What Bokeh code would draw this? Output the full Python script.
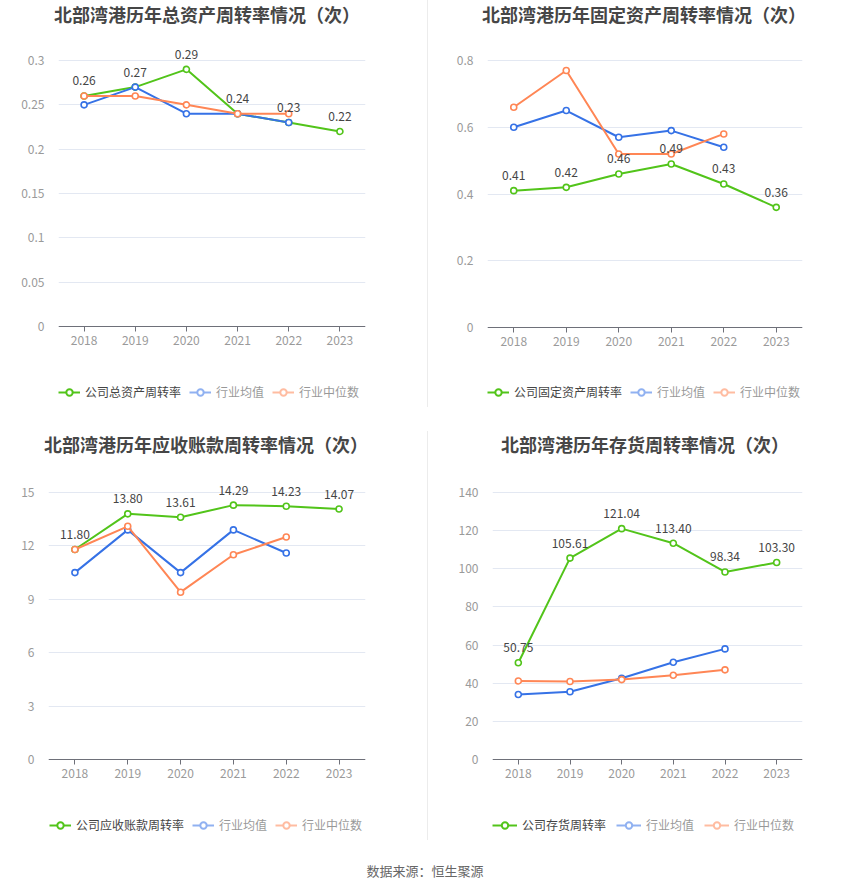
import math
from bokeh.plotting import figure
from bokeh.models import (ColumnDataSource, Range1d, FixedTicker, NumeralTickFormatter,
                          Legend, LegendItem, Div)
from bokeh.layouts import column, row
from bokeh.embed import file_html
from bokeh.resources import INLINE
from bokeh.core.properties import value

# ---------------- data ----------------
years = ["2018", "2019", "2020", "2021", "2022", "2023"]
years_ind = ["2018", "2019", "2020", "2021", "2022"]

ta_company = [0.26, 0.27, 0.29, 0.24, 0.23, 0.22]
ta_avg = [0.25, 0.27, 0.24, 0.24, 0.23]
ta_median = [0.26, 0.26, 0.25, 0.24, 0.24]
ta_ticks = [0, 0.05, 0.1, 0.15, 0.2, 0.25, 0.3]

fa_company = [0.41, 0.42, 0.46, 0.49, 0.43, 0.36]
fa_avg = [0.60, 0.65, 0.57, 0.59, 0.54]
fa_median = [0.66, 0.77, 0.52, 0.52, 0.58]
fa_ticks = [0, 0.2, 0.4, 0.6, 0.8]

ar_company = [11.80, 13.80, 13.61, 14.29, 14.23, 14.07]
ar_avg = [10.5, 12.9, 10.5, 12.9, 11.6]
ar_median = [11.8, 13.1, 9.4, 11.5, 12.5]
ar_ticks = [0, 3, 6, 9, 12, 15]

inv_company = [50.75, 105.61, 121.04, 113.40, 98.34, 103.30]
inv_avg = [34.1, 35.5, 42.6, 51.0, 58.0]
inv_median = [41.2, 40.9, 41.9, 44.2, 47.0]
inv_ticks = [0, 20, 40, 60, 80, 100, 120, 140]

titles = ["北部湾港历年总资产周转率情况（次）", "北部湾港历年固定资产周转率情况（次）",
          "北部湾港历年应收账款周转率情况（次）", "北部湾港历年存货周转率情况（次）"]
company_names = ["公司总资产周转率", "公司固定资产周转率", "公司应收账款周转率", "公司存货周转率"]
avg_name = "行业均值"
median_name = "行业中位数"
source_text = "数据来源：恒生聚源"

GREEN = "#52c41a"
BLUE = "#3672e6"
ORANGE = "#ff8655"
FONT = "Noto Sans CJK SC"
EXT = 20        # px of frame above the top gridline (room for value labels)
TITLE_H = 28    # height of the title strip
FRAME_BOTTOM = 377  # frame bottom inside figure (room for axis labels + legend)
AXIS_B = 25


def panel(title, cname, comp, avg, med, ticks, fmt, geo, divider=None):
    (bl, fw, br, gtop, fh, indent, lg_vx, lg_vy, gw, sp) = geo
    # gtop: px from figure top to top gridline; fh: px from top gridline to zero line
    top_border = gtop - EXT
    k = fh / ticks[-1]
    y_end = ticks[-1] + EXT / k
    y_start = -(FRAME_BOTTOM - gtop - fh) / k
    p = figure(x_range=years, y_range=Range1d(y_start, y_end),
               frame_width=fw, frame_height=FRAME_BOTTOM - top_border,
               min_border_left=bl, min_border_right=br,
               min_border_top=top_border, min_border_bottom=AXIS_B,
               output_backend="svg", toolbar_location=None)
    p.title.text = ""
    p.outline_line_color = None
    p.background_fill_color = "white"
    p.border_fill_alpha = 0

    p.xgrid.grid_line_color = None
    p.ygrid.grid_line_color = "#e3e8f2"
    p.ygrid.grid_line_width = 1

    p.yaxis.ticker = FixedTicker(ticks=ticks)
    p.yaxis.formatter = NumeralTickFormatter(format=fmt)
    p.yaxis.axis_line_color = None
    p.yaxis.major_tick_line_color = None
    p.yaxis.minor_tick_line_color = None
    p.yaxis.major_label_text_color = "#9a9a9a"
    p.yaxis.major_label_text_font = FONT
    p.yaxis.major_label_text_font_size = "12px"
    p.yaxis.major_label_standoff = 8

    p.xaxis.fixed_location = 0
    p.xaxis.axis_line_color = "#6e7079"
    p.xaxis.major_tick_line_color = "#6e7079"
    p.xaxis.major_tick_out = 5
    p.xaxis.major_tick_in = 0
    p.xaxis.major_label_text_color = "#9a9a9a"
    p.xaxis.major_label_text_font = FONT
    p.xaxis.major_label_text_font_size = "12px"
    p.xaxis.major_label_standoff = 4

    cs = ColumnDataSource(dict(x=years, y=comp, t=[f"{v:.2f}" for v in comp]))
    as_ = ColumnDataSource(dict(x=years_ind, y=avg))
    ms = ColumnDataSource(dict(x=years_ind, y=med))

    for src, col in ((cs, GREEN), (as_, BLUE), (ms, ORANGE)):
        p.line("x", "y", source=src, line_color=col, line_width=2)
        p.scatter("x", "y", source=src, size=6, marker="circle", line_color=col,
                  fill_color="white", line_width=1.6)

    p.text("x", "y", text="t", source=cs, text_align="center", text_baseline="middle",
           y_offset=-15, text_font=value(FONT), text_font_size="12px", text_color="#454545")

    # legend-only renderers (nothing drawn in the plot)
    ls = ColumnDataSource(dict(x=[years[0]], y=[math.nan]))
    items = []
    for i, (col, name) in enumerate(((GREEN, cname), (BLUE, avg_name), (ORANGE, median_name))):
        r1 = p.line("x", "y", source=ls, line_color=col, line_width=2)
        r2 = p.scatter("x", "y", source=ls, size=11, marker="circle", line_color=col,
                       fill_color="white", line_width=2)
        if i > 0:
            r1.visible = False
            r2.visible = False
        items.append(LegendItem(label=name, renderers=[r1, r2]))

    lg = Legend(items=items, location=(lg_vx, lg_vy), orientation="horizontal",
                padding=0, margin=0, spacing=sp, glyph_width=gw, glyph_height=16,
                label_standoff=5, label_text_font=FONT, label_text_font_size="12px",
                label_text_color="#444444", border_line_color=None,
                background_fill_alpha=0, click_policy="hide",
                inactive_fill_color="white", inactive_fill_alpha=0.45)
    p.add_layout(lg, "center")

    t = Div(text=title, width=425, height=TITLE_H, margin=0,
            styles={"font-size": "18px", "font-weight": "bold", "color": "#464646",
                    "font-family": FONT, "line-height": f"{TITLE_H}px",
                    "text-indent": f"{indent}px", "white-space": "nowrap"})
    col_styles = {}
    if divider is not None:
        y0, h = divider
        col_styles = {
            "background-image": "linear-gradient(to right, transparent 2px, #ececec 2px, "
                                "#ececec 3px, transparent 3px)",
            "background-repeat": "no-repeat",
            "background-size": f"100% {h}px",
            "background-position": f"0 {y0}px",
        }
    return column(t, p, spacing=0, styles=col_styles)


# geo: (left border, frame width, right border, top gridline y, zero-line distance,
#       title indent, legend x, legend offset from frame bottom, legend glyph width, spacing)
p1 = panel(titles[0], company_names[0], ta_company, ta_avg, ta_median, ta_ticks, "0.[00]",
           (58, 307, 60, 32, 266, 54, 0, 5, 22, 8))
p2 = panel(titles[1], company_names[1], fa_company, fa_avg, fa_median, fa_ticks, "0.[0]",
           (62, 315, 48, 32, 267, 57, 0, 5, 22, 8), divider=(0, 407))
p3 = panel(titles[2], company_names[2], ar_company, ar_avg, ar_median, ar_ticks, "0",
           (48, 317, 60, 34, 267, 44, 1, 2, 22, 8))
p4 = panel(titles[3], company_names[3], inv_company, inv_avg, inv_median, inv_ticks, "0",
           (67, 310, 48, 34, 267, 76, 0, 2, 25, 10), divider=(1, 409))

footer = Div(text=source_text, width=850, height=26, margin=0,
             styles={"text-align": "center", "color": "#666666", "font-size": "13px",
                     "font-family": FONT, "line-height": "22px"})

layout = column(row(p1, p2, spacing=0), row(p3, p4, spacing=0), footer, spacing=0)
open("out.html", "w").write(file_html(layout, INLINE))
